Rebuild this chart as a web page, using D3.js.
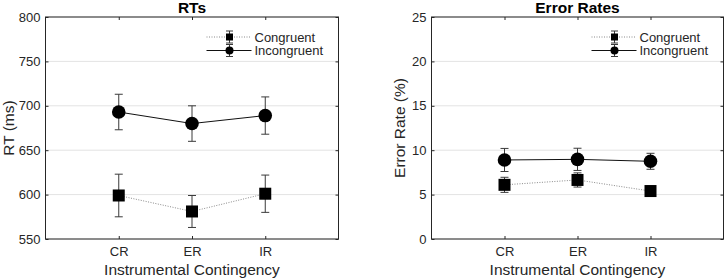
<!DOCTYPE html>
<html>
<head>
<meta charset="utf-8">
<script src="https://cdn.jsdelivr.net/npm/d3@7"></script>
<style>
  body { margin: 0; background: #fff; }
  svg { font-family: "Liberation Sans", Arial, sans-serif; }
</style>
</head>
<body>
<div id="chart"></div>
<script>
var categories = ["CR", "ER", "IR"];
var seriesNames = ["Congruent", "Incongruent"];

// RTs (ms)
var rtCongruent = [599, 581, 601];
var rtCongruentErr = [24, 18, 21];
var rtIncongruent = [693, 680, 689];
var rtIncongruentErr = [20, 20, 21];
var rtTicks = [550, 600, 650, 700, 750, 800];

// Error rates (%)
var erCongruent = [6.1, 6.65, 5.4];
var erCongruentErr = [0.85, 0.8, 0.55];
var erIncongruent = [8.9, 8.97, 8.75];
var erIncongruentErr = [1.3, 1.25, 0.9];
var erTicks = [0, 5, 10, 15, 20, 25];

var svg = d3.select("#chart").append("svg")
    .attr("width", 725)
    .attr("height", 279);

var axisColor = "#262626";

function panel(opts) {
    var left = opts.left, width = opts.width;
    var top = 17, height = 222;

    var g = svg.append("g").attr("transform", "translate(" + left + "," + top + ")");

    var x = d3.scaleLinear().domain([0, 4]).range([0, width]);
    var y = d3.scaleLinear().domain(opts.domain).range([height, 0]);

    // grid lines
    g.append("g").selectAll("line")
        .data(opts.ticks)
        .enter().append("line")
        .attr("x1", 0).attr("x2", width)
        .attr("y1", function(d) { return y(d); })
        .attr("y2", function(d) { return y(d); })
        .style("stroke", "#e3e3e3")
        .style("stroke-width", 1);

    // box
    g.append("rect")
        .attr("width", width).attr("height", height)
        .style("fill", "none")
        .style("stroke", axisColor)
        .style("stroke-width", 1);

    // ticks (inward)
    var yAxisL = d3.axisLeft(y).tickValues(opts.ticks).tickSize(-3).tickPadding(5);
    var yAxisR = d3.axisRight(y).tickValues(opts.ticks).tickSize(-3).tickFormat("");
    var xAxisB = d3.axisBottom(x).tickValues([1, 2, 3]).tickSize(-3).tickPadding(8)
        .tickFormat(function(d) { return categories[d - 1]; });
    var xAxisT = d3.axisTop(x).tickValues([1, 2, 3]).tickSize(-3).tickFormat("");

    [g.append("g").call(yAxisL),
     g.append("g").attr("transform", "translate(" + width + ",0)").call(yAxisR),
     g.append("g").attr("transform", "translate(0," + height + ")").call(xAxisB),
     g.append("g").call(xAxisT)].forEach(function(a) {
        a.select(".domain").remove();
        a.selectAll("line").style("stroke", axisColor);
        a.selectAll("text").style("fill", axisColor).style("font-size", "13px")
            .style("font-family", "Liberation Sans, Arial, sans-serif");
    });

    // title
    g.append("text")
        .attr("x", width / 2).attr("y", -4.5)
        .attr("text-anchor", "middle")
        .style("font-weight", "bold")
        .style("font-size", "15.5px")
        .text(opts.title);

    // axis labels
    g.append("text")
        .attr("x", width / 2).attr("y", height + 36)
        .attr("text-anchor", "middle")
        .style("font-size", "15.5px")
        .style("fill", axisColor)
        .text("Instrumental Contingency");

    g.append("text")
        .attr("transform", "translate(" + opts.ylabelX + "," + height / 2 + ") rotate(-90)")
        .attr("text-anchor", "middle")
        .style("font-size", "15.5px")
        .style("fill", axisColor)
        .text(opts.ylabel);

    var line = d3.line()
        .x(function(d, i) { return x(i + 1); })
        .y(function(d) { return y(d); });

    // lines
    g.append("path").datum(opts.cong)
        .attr("d", line)
        .style("fill", "none")
        .style("stroke", "#8a8a8a")
        .style("stroke-width", 1)
        .style("stroke-dasharray", "1,1.5");

    g.append("path").datum(opts.incong)
        .attr("d", line)
        .style("fill", "none")
        .style("stroke", "#111")
        .style("stroke-width", 1);

    function errorBars(vals, errs) {
        var eb = g.append("g");
        vals.forEach(function(v, i) {
            var cx = x(i + 1);
            var y1 = y(v + errs[i]), y0 = y(v - errs[i]);
            eb.append("line").attr("x1", cx).attr("x2", cx).attr("y1", y1).attr("y2", y0)
                .style("stroke", "#3a3a3a").style("stroke-width", 1);
            [y1, y0].forEach(function(yy) {
                eb.append("line").attr("x1", cx - 4).attr("x2", cx + 4).attr("y1", yy).attr("y2", yy)
                    .style("stroke", "#3a3a3a").style("stroke-width", 1);
            });
        });
    }
    errorBars(opts.cong, opts.congErr);
    errorBars(opts.incong, opts.incongErr);

    // markers
    g.append("g").selectAll("rect")
        .data(opts.cong)
        .enter().append("rect")
        .attr("x", function(d, i) { return x(i + 1) - 6; })
        .attr("y", function(d) { return y(d) - 6; })
        .attr("width", 12).attr("height", 12)
        .style("fill", "#000");

    g.append("g").selectAll("circle")
        .data(opts.incong)
        .enter().append("circle")
        .attr("cx", function(d, i) { return x(i + 1); })
        .attr("cy", function(d) { return y(d); })
        .attr("r", 6.8)
        .style("fill", "#000");

    // legend
    var lg = g.append("g").attr("transform", "translate(" + (width - 132) + ",20)");
    seriesNames.forEach(function(name, i) {
        var ly = i * 13.5;
        var row = lg.append("g").attr("transform", "translate(0," + ly + ")");
        row.append("line").attr("x1", 0).attr("x2", 45).attr("y1", 0).attr("y2", 0)
            .style("stroke", i === 0 ? "#8a8a8a" : "#111")
            .style("stroke-width", 1)
            .style("stroke-dasharray", i === 0 ? "1,1.5" : null);
        row.append("line").attr("x1", 23).attr("x2", 23).attr("y1", -6).attr("y2", 6)
            .style("stroke", "#3a3a3a");
        [-6, 6].forEach(function(yy) {
            row.append("line").attr("x1", 19.5).attr("x2", 26.5).attr("y1", yy).attr("y2", yy)
                .style("stroke", "#3a3a3a");
        });
        if (i === 0) {
            row.append("rect").attr("x", 19.5).attr("y", -3.5).attr("width", 7).attr("height", 7)
                .style("fill", "#000");
        } else {
            row.append("circle").attr("cx", 23).attr("cy", 0).attr("r", 4).style("fill", "#000");
        }
        row.append("text").attr("x", 48).attr("y", 0).attr("dy", "0.35em")
            .style("font-size", "13px")
            .style("fill", axisColor)
            .text(name);
    });
}

panel({
    left: 45.5, width: 293, title: "RTs", ylabel: "RT (ms)", ylabelX: -32,
    domain: [550, 800], ticks: rtTicks,
    cong: rtCongruent, congErr: rtCongruentErr,
    incong: rtIncongruent, incongErr: rtIncongruentErr
});

panel({
    left: 431.5, width: 292, title: "Error Rates", ylabel: "Error Rate (%)", ylabelX: -27,
    domain: [0, 25], ticks: erTicks,
    cong: erCongruent, congErr: erCongruentErr,
    incong: erIncongruent, incongErr: erIncongruentErr
});
</script>
</body>
</html>
